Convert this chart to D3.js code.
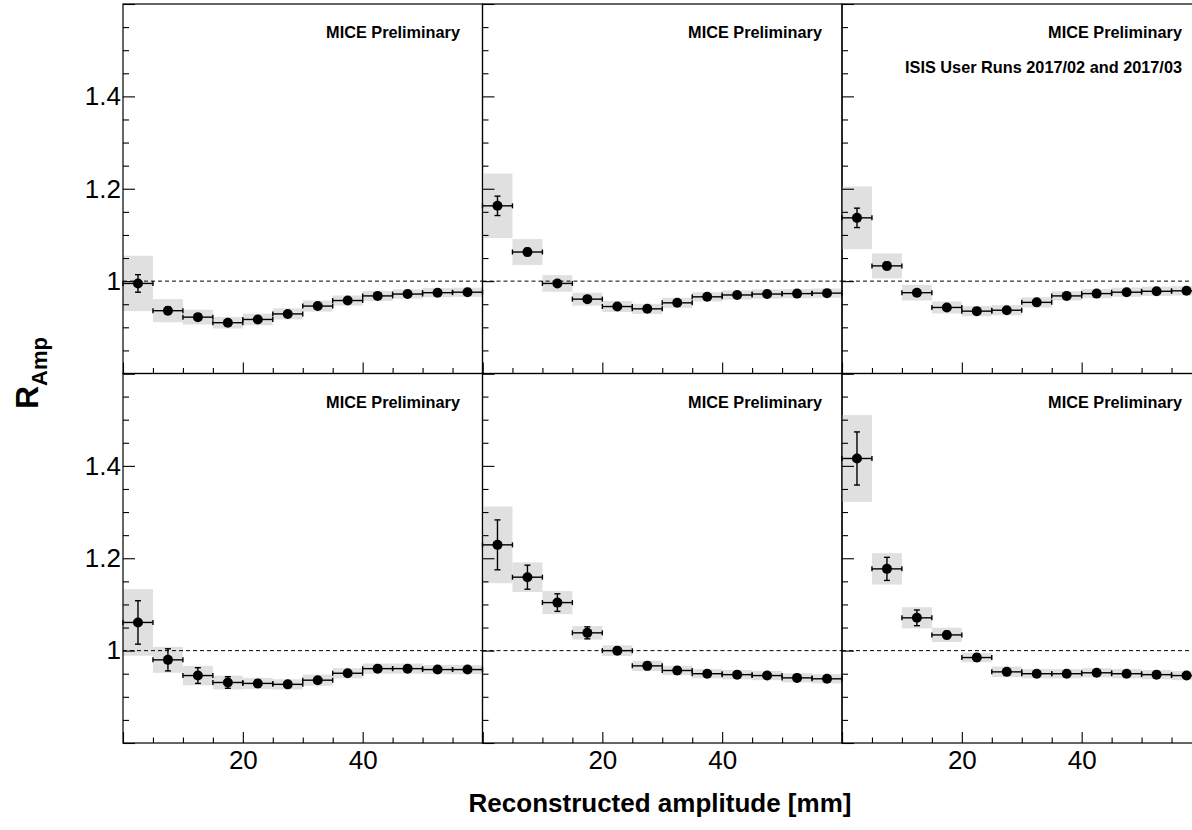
<!DOCTYPE html>
<html>
<head>
<meta charset="utf-8">
<script src="https://cdn.jsdelivr.net/npm/d3@7"></script>
<style>
  html, body { margin: 0; padding: 0; background: #fff; overflow: hidden; }
  svg { display: block; }
</style>
</head>
<body>
<svg id="chart" width="1192" height="830"></svg>
<script>
// ---------------- DATA ----------------
const binCenters = [2.5, 7.5, 12.5, 17.5, 22.5, 27.5, 32.5, 37.5, 42.5, 47.5, 52.5, 57.5];
const binHalfWidth = 2.5;

// panel order: top-left, top-middle, top-right, bottom-left, bottom-middle, bottom-right
const valuesP1 = [0.995, 0.936, 0.922, 0.910, 0.917, 0.929, 0.946, 0.958, 0.968, 0.972, 0.975, 0.976];
const valuesP2 = [1.163, 1.063, 0.995, 0.961, 0.945, 0.940, 0.953, 0.966, 0.970, 0.972, 0.973, 0.974];
const valuesP3 = [1.137, 1.033, 0.975, 0.943, 0.935, 0.937, 0.954, 0.968, 0.973, 0.976, 0.978, 0.979];
const valuesP4 = [1.061, 0.980, 0.946, 0.931, 0.929, 0.927, 0.936, 0.951, 0.961, 0.961, 0.959, 0.959];
const valuesP5 = [1.229, 1.159, 1.104, 1.0385, 1.000, 0.967, 0.957, 0.950, 0.948, 0.946, 0.941, 0.939];
const valuesP6 = [1.416, 1.177, 1.071, 1.034, 0.985, 0.954, 0.950, 0.950, 0.952, 0.950, 0.948, 0.946];

const statP1 = [0.019, 0.008, 0.006, 0.005, 0.005, 0.005, 0.005, 0.004, 0.004, 0.004, 0.004, 0.004];
const statP2 = [0.021, 0.008, 0.006, 0.005, 0.005, 0.005, 0.005, 0.004, 0.004, 0.004, 0.004, 0.004];
const statP3 = [0.021, 0.008, 0.006, 0.005, 0.005, 0.005, 0.005, 0.004, 0.004, 0.004, 0.004, 0.004];
const statP4 = [0.047, 0.024, 0.017, 0.0125, 0.008, 0.006, 0.006, 0.005, 0.005, 0.005, 0.005, 0.005];
const statP5 = [0.054, 0.026, 0.019, 0.013, 0.007, 0.008, 0.008, 0.006, 0.005, 0.005, 0.005, 0.005];
const statP6 = [0.0575, 0.025, 0.017, 0.008, 0.008, 0.006, 0.005, 0.005, 0.005, 0.005, 0.005, 0.005];

const sysP1 = [0.060, 0.025, 0.016, 0.0125, 0.0125, 0.012, 0.012, 0.011, 0.011, 0.010, 0.010, 0.010];
const sysP2 = [0.070, 0.028, 0.018, 0.014, 0.012, 0.011, 0.011, 0.010, 0.010, 0.010, 0.010, 0.010];
const sysP3 = [0.068, 0.027, 0.017, 0.013, 0.011, 0.011, 0.011, 0.010, 0.010, 0.010, 0.010, 0.010];
const sysP4 = [0.072, 0.028, 0.021, 0.015, 0.012, 0.011, 0.012, 0.011, 0.011, 0.011, 0.010, 0.010];
const sysP5 = [0.083, 0.032, 0.025, 0.0145, 0.0115, 0.011, 0.010, 0.010, 0.010, 0.010, 0.010, 0.010];
const sysP6 = [0.094, 0.034, 0.023, 0.0155, 0.010, 0.0115, 0.010, 0.010, 0.010, 0.010, 0.010, 0.010];

const xDomain = [0, 60];
const yDomain = [0.8, 1.6];
const xMajorTicks = [0, 20, 40, 60];
const xMinorTicks = [5, 10, 15, 25, 30, 35, 45, 50, 55];
const xTickLabels = ["20", "40"];
const xLabelValues = [20, 40];
const yMajorTicks = [0.8, 1.0, 1.2, 1.4, 1.6];
const yMinorTicks = [0.85, 0.9, 0.95, 1.05, 1.1, 1.15, 1.25, 1.3, 1.35, 1.45, 1.5, 1.55];
const yTickLabels = ["1", "1.2", "1.4"];
const yLabelValues = [1.0, 1.2, 1.4];
const referenceLine = 1.0;

const watermark = "MICE Preliminary";
const runLabel = "ISIS User Runs 2017/02 and 2017/03";
const xTitle = "Reconstructed amplitude [mm]";
const yTitleMain = "R";
const yTitleSub = "Amp";

const panels = [
  { values: valuesP1, stat: statP1, sys: sysP1 },
  { values: valuesP2, stat: statP2, sys: sysP2 },
  { values: valuesP3, stat: statP3, sys: sysP3 },
  { values: valuesP4, stat: statP4, sys: sysP4 },
  { values: valuesP5, stat: statP5, sys: sysP5 },
  { values: valuesP6, stat: statP6, sys: sysP6 }
];

// ---------------- LAYOUT ----------------
const colX0 = [123, 482.5, 842];
const panelW = 359.5;
const rowY0 = [4, 373.5];
const panelH = 369.5;
const watermarkRight = [460, 822, 1182];
const font = "'Liberation Sans', Arial, Helvetica, sans-serif";

const svg = d3.select("#chart");

panels.forEach((p, i) => {
  const col = i % 3, row = Math.floor(i / 3);
  const x0 = colX0[col], y0 = rowY0[row];
  const x = d3.scaleLinear().domain(xDomain).range([x0, x0 + panelW]);
  const y = d3.scaleLinear().domain(yDomain).range([y0 + panelH, y0]);
  const g = svg.append("g");

  const data = binCenters.map((c, k) => ({ c, v: p.values[k], s: p.stat[k], sy: p.sys[k] }));

  // systematic boxes
  g.append("g").selectAll("rect").data(data).join("rect")
    .attr("x", d => x(d.c - binHalfWidth))
    .attr("width", d => x(d.c + binHalfWidth) - x(d.c - binHalfWidth))
    .attr("y", d => y(d.v + d.sy))
    .attr("height", d => y(d.v - d.sy) - y(d.v + d.sy))
    .attr("fill", "#e0e0e0");

  // reference dashed line
  g.append("line")
    .attr("x1", x(xDomain[0])).attr("x2", x(xDomain[1]))
    .attr("y1", y(referenceLine)).attr("y2", y(referenceLine))
    .attr("stroke", "#000").attr("stroke-width", 1)
    .attr("stroke-dasharray", "4,3");

  const eb = g.append("g").attr("stroke", "#000").attr("stroke-width", 1.4).attr("fill", "none");
  // horizontal error bars
  eb.selectAll(".hbar").data(data).join("line").attr("class", "hbar")
    .attr("x1", d => x(d.c - binHalfWidth)).attr("x2", d => x(d.c + binHalfWidth))
    .attr("y1", d => y(d.v)).attr("y2", d => y(d.v));
  eb.selectAll(".hcapL").data(data).join("line").attr("class", "hcapL")
    .attr("x1", d => x(d.c - binHalfWidth)).attr("x2", d => x(d.c - binHalfWidth))
    .attr("y1", d => y(d.v) - 2.5).attr("y2", d => y(d.v) + 2.5);
  eb.selectAll(".hcapR").data(data).join("line").attr("class", "hcapR")
    .attr("x1", d => x(d.c + binHalfWidth)).attr("x2", d => x(d.c + binHalfWidth))
    .attr("y1", d => y(d.v) - 2.5).attr("y2", d => y(d.v) + 2.5);
  // vertical error bars
  eb.selectAll(".vbar").data(data).join("line").attr("class", "vbar")
    .attr("x1", d => x(d.c)).attr("x2", d => x(d.c))
    .attr("y1", d => y(d.v + d.s)).attr("y2", d => y(d.v - d.s));
  eb.selectAll(".vcapT").data(data).join("line").attr("class", "vcapT")
    .attr("x1", d => x(d.c) - 3).attr("x2", d => x(d.c) + 3)
    .attr("y1", d => y(d.v + d.s)).attr("y2", d => y(d.v + d.s));
  eb.selectAll(".vcapB").data(data).join("line").attr("class", "vcapB")
    .attr("x1", d => x(d.c) - 3).attr("x2", d => x(d.c) + 3)
    .attr("y1", d => y(d.v - d.s)).attr("y2", d => y(d.v - d.s));

  // markers
  g.append("g").selectAll("circle").data(data).join("circle")
    .attr("cx", d => x(d.c)).attr("cy", d => y(d.v)).attr("r", 5)
    .attr("fill", "#000");

  // frame
  g.append("rect")
    .attr("x", x0).attr("y", y0).attr("width", panelW).attr("height", panelH)
    .attr("fill", "none").attr("stroke", "#000").attr("stroke-width", 1.2);

  // y axes (ticks inward)
  const yMajor = d3.axisLeft(y).tickValues(yMajorTicks).tickSize(-12).tickPadding(2)
    .tickFormat(d => {
      if (col !== 0) return "";
      const idx = yLabelValues.findIndex(v => Math.abs(v - d) < 1e-9);
      return idx >= 0 ? yTickLabels[idx] : "";
    });
  const yAx = g.append("g").attr("transform", `translate(${x0},0)`).call(yMajor);
  const yMinor = d3.axisLeft(y).tickValues(yMinorTicks).tickSize(-6).tickFormat("");
  const yAx2 = g.append("g").attr("transform", `translate(${x0},0)`).call(yMinor);

  // x axes (ticks upward)
  const xMajor = d3.axisBottom(x).tickValues(xMajorTicks).tickSize(-11).tickPadding(8)
    .tickFormat(d => {
      if (row !== 1) return "";
      const idx = xLabelValues.indexOf(d);
      return idx >= 0 ? xTickLabels[idx] : "";
    });
  const xAx = g.append("g").attr("transform", `translate(0,${y0 + panelH})`).call(xMajor);
  const xMinor = d3.axisBottom(x).tickValues(xMinorTicks).tickSize(-5.5).tickFormat("");
  const xAx2 = g.append("g").attr("transform", `translate(0,${y0 + panelH})`).call(xMinor);

  [yAx, yAx2, xAx, xAx2].forEach(a => {
    a.select(".domain").remove();
    a.selectAll("line").attr("stroke", "#000").attr("stroke-width", 1.1);
    a.selectAll("text").attr("font-family", font).attr("font-size", 26).attr("fill", "#000");
  });

  // watermark
  g.append("text")
    .attr("x", watermarkRight[col]).attr("y", y0 + 34)
    .attr("text-anchor", "end")
    .attr("font-family", font).attr("font-weight", "bold").attr("font-size", 16.3)
    .attr("fill", "#000").text(watermark);
  if (i === 2) {
    g.append("text")
      .attr("x", watermarkRight[col]).attr("y", y0 + 69)
      .attr("text-anchor", "end")
      .attr("font-family", font).attr("font-weight", "bold").attr("font-size", 16.3)
      .attr("fill", "#000").text(runLabel);
  }
});

// axis titles
svg.append("text")
  .attr("x", 660).attr("y", 812)
  .attr("text-anchor", "middle")
  .attr("font-family", font).attr("font-weight", "bold").attr("font-size", 26)
  .attr("fill", "#000").text(xTitle);

const yt = svg.append("text")
  .attr("transform", "translate(38,373) rotate(-90)")
  .attr("text-anchor", "middle")
  .attr("font-family", font).attr("font-weight", "bold").attr("fill", "#000");
yt.append("tspan").attr("font-size", 32).text(yTitleMain);
yt.append("tspan").attr("font-size", 22).attr("dy", 9).text(yTitleSub);
</script>
</body>
</html>
